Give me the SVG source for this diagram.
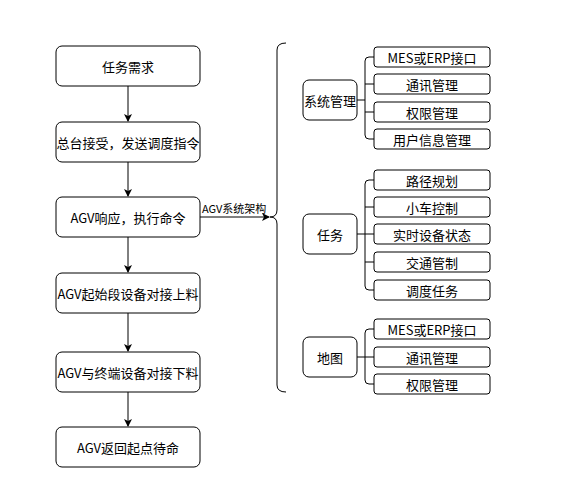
<svg xmlns="http://www.w3.org/2000/svg" width="569" height="484" viewBox="0 0 569 484">
<defs>
<marker id="ah" markerWidth="8" markerHeight="8" refX="7" refY="4" orient="auto" markerUnits="userSpaceOnUse">
<path d="M0,0 L8,4 L0,8 L2,4 Z" fill="#000"/>
</marker>
<style>
.b{fill:#fff;stroke:#000;stroke-width:1}
.t{font-family:"Noto Sans CJK SC","Liberation Sans",sans-serif;font-size:13px;fill:#000;text-anchor:middle;dominant-baseline:central}
.s{font-family:"Noto Sans CJK SC","Liberation Sans",sans-serif;font-size:11px;fill:#000}
.c{fill:none;stroke:#000;stroke-width:1}
</style>
</defs>
<rect width="569" height="484" fill="#fff"/>
<g id="connectors">
<line class="c" x1="128" y1="86" x2="128" y2="121" marker-end="url(#ah)"/>
<line class="c" x1="128" y1="162" x2="128" y2="196" marker-end="url(#ah)"/>
<line class="c" x1="128" y1="237" x2="128" y2="272" marker-end="url(#ah)"/>
<line class="c" x1="128" y1="313" x2="128" y2="351" marker-end="url(#ah)"/>
<line class="c" x1="128" y1="392" x2="128" y2="426" marker-end="url(#ah)"/>
<line class="c" x1="200" y1="217" x2="269" y2="217" marker-end="url(#ah)"/>
<text class="s" x="202" y="213">AGV系统架构</text>
<path class="c" d="M286,43 Q277,43 277,50 L277,210 Q277,217 270,217 Q277,217 277,224 L277,385 Q277,392 286,392"/>
<path class="c" d="M357,100 L365,100 M374,57 L369,57 Q365,57 365,61 L365,135 Q365,139 369,139 L374,139 M365,84 L374,84 M365,112 L374,112"/>
<path class="c" d="M357,234 L374,234 M374,180 L369,180 Q365,180 365,184 L365,286 Q365,290 369,290 L374,290 M365,207 L374,207 M365,262 L374,262"/>
<path class="c" d="M357,357 L374,357 M374,329 L369,329 Q365,329 365,333 L365,380 Q365,384 369,384 L374,384"/>
</g>
<g id="n1"><rect class="b" x="56" y="46" width="144" height="40" rx="6"/><text class="t" x="128" y="66">任务需求</text></g>
<g id="n2"><rect class="b" x="56" y="122" width="144" height="40" rx="6"/><text class="t" x="128" y="142">总台接受，发送调度指令</text></g>
<g id="n3"><rect class="b" x="56" y="197" width="144" height="40" rx="6"/><text class="t" x="128" y="217">AGV响应，执行命令</text></g>
<g id="n4"><rect class="b" x="56" y="273" width="144" height="40" rx="6"/><text class="t" x="128" y="293">AGV起始段设备对接上料</text></g>
<g id="n5"><rect class="b" x="56" y="352" width="144" height="40" rx="6"/><text class="t" x="128" y="372">AGV与终端设备对接下料</text></g>
<g id="n6"><rect class="b" x="56" y="427" width="144" height="40" rx="6"/><text class="t" x="128" y="447">AGV返回起点待命</text></g>
<g id="m1"><rect class="b" x="303" y="80" width="54" height="40" rx="6"/><text class="t" x="330" y="100">系统管理</text></g>
<g id="m2"><rect class="b" x="303" y="214" width="54" height="40" rx="6"/><text class="t" x="330" y="234">任务</text></g>
<g id="m3"><rect class="b" x="303" y="337" width="54" height="40" rx="6"/><text class="t" x="330" y="357">地图</text></g>
<g id="r1"><rect class="b" x="374" y="47" width="116" height="20" rx="3"/><text class="t" x="432" y="57">MES或ERP接口</text></g>
<g id="r2"><rect class="b" x="374" y="74" width="116" height="20" rx="3"/><text class="t" x="432" y="84">通讯管理</text></g>
<g id="r3"><rect class="b" x="374" y="102" width="116" height="20" rx="3"/><text class="t" x="432" y="112">权限管理</text></g>
<g id="r4"><rect class="b" x="374" y="129" width="116" height="20" rx="3"/><text class="t" x="432" y="139">用户信息管理</text></g>
<g id="r5"><rect class="b" x="374" y="170" width="116" height="20" rx="3"/><text class="t" x="432" y="180">路径规划</text></g>
<g id="r6"><rect class="b" x="374" y="197" width="116" height="20" rx="3"/><text class="t" x="432" y="207">小车控制</text></g>
<g id="r7"><rect class="b" x="374" y="224" width="116" height="20" rx="3"/><text class="t" x="432" y="234">实时设备状态</text></g>
<g id="r8"><rect class="b" x="374" y="252" width="116" height="20" rx="3"/><text class="t" x="432" y="262">交通管制</text></g>
<g id="r9"><rect class="b" x="374" y="280" width="116" height="20" rx="3"/><text class="t" x="432" y="290">调度任务</text></g>
<g id="r10"><rect class="b" x="374" y="319" width="116" height="20" rx="3"/><text class="t" x="432" y="329">MES或ERP接口</text></g>
<g id="r11"><rect class="b" x="374" y="347" width="116" height="20" rx="3"/><text class="t" x="432" y="357">通讯管理</text></g>
<g id="r12"><rect class="b" x="374" y="374" width="116" height="20" rx="3"/><text class="t" x="432" y="384">权限管理</text></g>
</svg>
